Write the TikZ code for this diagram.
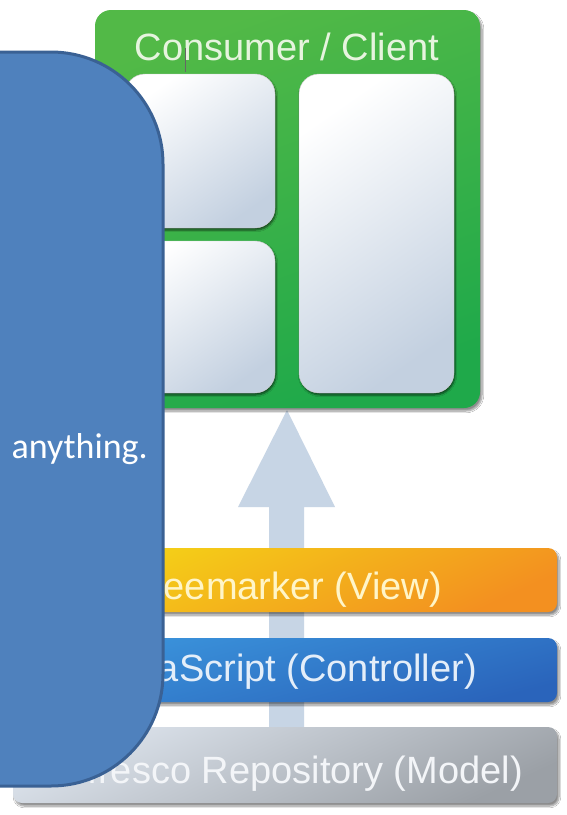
\documentclass[tikz,border=0pt]{standalone}
\usepackage{fontspec}
\newfontfamily\arialf{Liberation Sans}
\newfontfamily\calf{Carlito}
\usetikzlibrary{shadows.blur}
\definecolor{calloutf}{HTML}{4F81BD}
\definecolor{calloutb}{HTML}{3A6194}
\definecolor{greenA}{HTML}{52B947}
\definecolor{greenB}{HTML}{1FA94A}
\definecolor{panelB}{HTML}{C3D0E0}
\definecolor{arrowc}{HTML}{C7D5E5}
\definecolor{viewA}{HTML}{F4D816}
\definecolor{viewB}{HTML}{F39020}
\definecolor{ctrlA}{HTML}{3C97DE}
\definecolor{ctrlB}{HTML}{2A64BB}
\definecolor{modelA}{HTML}{DDE4ED}
\definecolor{modelB}{HTML}{9BA0A6}
\definecolor{titlec}{HTML}{E6F4DE}
\definecolor{viewt}{HTML}{FFF5C8}
\definecolor{ctrlt}{HTML}{E4EEF9}
\definecolor{modelt}{HTML}{F3F5F8}
\tikzset{
  boxshadow/.style={blur shadow={shadow xshift=2pt, shadow yshift=-3pt, shadow blur steps=8, shadow opacity=45}},
  clientbox/.style={rectangle, draw=none, rounded corners=16pt, top color=greenA, bottom color=greenB, shading angle=20, boxshadow, inner sep=0pt},
  panel/.style={rectangle, draw=black!20, line width=0.4pt, rounded corners=20pt, top color=white, bottom color=panelB, shading angle=35, inner sep=0pt,
     blur shadow={shadow xshift=1pt, shadow yshift=-2pt, shadow blur steps=6, shadow opacity=60}},
  bar/.style={rectangle, draw=none, rounded corners=9pt, minimum width=544pt, inner sep=0pt, boxshadow},
  bartext/.style={anchor=base east, font=\arialf\fontsize{38}{40}\selectfont, inner sep=0pt},
}
\begin{document}
\begin{tikzpicture}[x=1pt,y=-1pt]
\useasboundingbox (0,0) rectangle (567,815);
\fill[white] (0,0) rectangle (567,815);
% upward arrow behind everything
\coordinate (apex) at (287,410);
\fill[arrowc] (269,745) -- (269,507) -- (238,507) -- (apex) -- (335,507) -- (304,507) -- (304,745) -- cycle;
% consumer / client box
\node[clientbox, minimum width=385pt, minimum height=398pt] (client) at (287.5,209) {};
\node[anchor=base, font=\arialf\fontsize{38}{40}\selectfont, text=titlec, inner sep=0pt] (title) at (287,60) {Consumer / Client};
\draw[black!60, line width=0.8pt] (185,48) -- (185,72);
\node[panel, minimum width=150pt, minimum height=154pt] (p1) at (200,151) {};
\node[panel, minimum width=150pt, minimum height=152pt] (p2) at (200,317) {};
\node[panel, minimum width=155pt, minimum height=319pt] (p3) at (376.5,233.5) {};
% layer bars
\node[bar, minimum height=64pt, top color=viewA, bottom color=viewB, shading angle=25] (view) at (285,580) {};
\node[bar, minimum height=64pt, top color=ctrlA, bottom color=ctrlB, shading angle=15] (ctrl) at (285,670) {};
\node[bar, minimum height=76pt, top color=modelA, bottom color=modelB, shading angle=25] (model) at (285,765) {};
\node[bartext, text=viewt] (viewtext) at (442,599) {Freemarker (View)};
\node[bartext, text=ctrlt] (ctrltext) at (477,681) {JavaScript (Controller)};
\node[bartext, text=modelt] (modeltext) at (523,783) {Alfresco Repository (Model)};
% blue callout overlay
\draw[line width=3pt, draw=calloutb, fill=calloutf, rounded corners=112pt] (-10,52) -- (163,52) -- (163,786) -- (-10,786);
\node[anchor=base east, font=\calf\fontsize{36}{40}\selectfont, text=white, inner sep=0pt] (anything) at (148,458) {anything.};
\end{tikzpicture}
\end{document}
